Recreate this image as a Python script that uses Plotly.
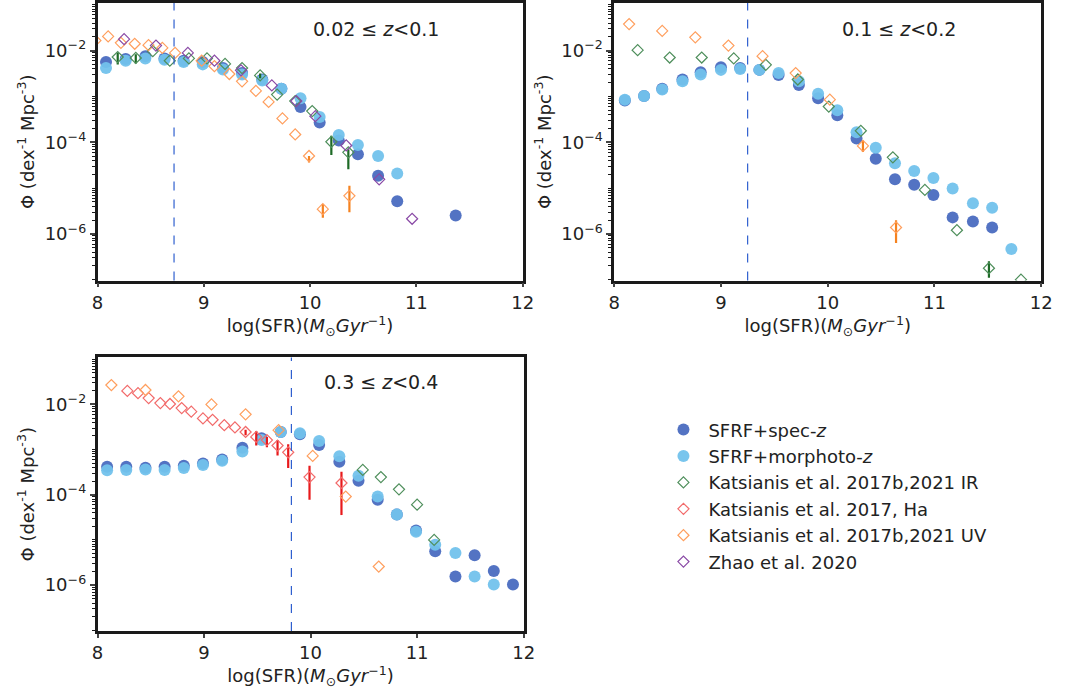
import plotly.graph_objects as go

# ---------------- data (log10 Phi values) ----------------
# Panel 1: 0.02 <= z < 0.1
p1_spec_x = [8.08, 8.265, 8.45, 8.63, 8.81, 8.99, 9.18, 9.36, 9.55, 9.73, 9.91, 10.09, 10.27, 10.45, 10.64, 10.82, 11.37]
p1_spec_y = [-2.25, -2.18, -2.12, -2.17, -2.22, -2.25, -2.38, -2.49, -2.63, -2.83, -3.23, -3.57, -3.96, -4.26, -4.73, -5.29, -5.60]
p1_morph_x = [8.08, 8.265, 8.45, 8.63, 8.81, 8.99, 9.18, 9.36, 9.55, 9.73, 9.91, 10.09, 10.27, 10.45, 10.64, 10.82]
p1_morph_y = [-2.38, -2.22, -2.17, -2.20, -2.25, -2.30, -2.41, -2.52, -2.65, -2.83, -3.04, -3.45, -3.84, -4.06, -4.30, -4.68]
p1_ir_x = [8.19, 8.36, 8.52, 8.68, 8.86, 9.03, 9.20, 9.36, 9.53, 9.69, 9.86, 10.02, 10.20, 10.36]
p1_ir_y = [-2.14, -2.16, -2.01, -2.22, -2.17, -2.17, -2.29, -2.38, -2.54, -2.96, -3.10, -3.32, -3.99, -4.22]
p1_ir_lo = [-2.30, -2.28, None, None, None, None, None, None, -2.60, None, None, None, -4.28, -4.59]
p1_ir_hi = [-2.04, -2.08, None, None, None, None, None, None, -2.50, None, None, None, -3.86, -4.15]
p1_uv_x = [7.98, 8.10, 8.22, 8.35, 8.48, 8.61, 8.73, 8.98, 9.10, 9.24, 9.36, 9.49, 9.61, 9.74, 9.86, 9.99, 10.12, 10.37]
p1_uv_y = [-1.78, -1.69, -1.83, -1.85, -1.88, -1.94, -2.05, -2.22, -2.34, -2.51, -2.67, -2.88, -3.12, -3.48, -3.83, -4.30, -5.46, -5.17]
p1_uv_lo = [None] * 15 + [-4.44, -5.65, -5.53]
p1_uv_hi = [None] * 15 + [-4.30, -5.35, -4.95]
p1_zhao_x = [8.25, 8.55, 8.85, 9.10, 9.35, 9.64, 9.87, 10.05, 10.34, 10.65, 10.96]
p1_zhao_y = [-1.75, -1.89, -2.05, -2.22, -2.43, -2.76, -3.10, -3.43, -4.07, -4.81, -5.67]

# Panel 2: 0.1 <= z < 0.2
p2_spec_x = [8.10, 8.28, 8.45, 8.64, 8.81, 9.00, 9.18, 9.36, 9.54, 9.73, 9.91, 10.09, 10.27, 10.45, 10.63, 10.81, 10.99, 11.17, 11.36, 11.54]
p2_spec_y = [-3.09, -2.99, -2.83, -2.63, -2.47, -2.36, -2.38, -2.42, -2.53, -2.75, -3.04, -3.41, -3.92, -4.36, -4.81, -4.93, -5.15, -5.64, -5.73, -5.86]
p2_morph_x = [8.10, 8.28, 8.45, 8.64, 8.81, 9.00, 9.18, 9.36, 9.54, 9.73, 9.91, 10.09, 10.27, 10.45, 10.63, 10.81, 10.99, 11.17, 11.36, 11.54, 11.72]
p2_morph_y = [-3.07, -2.99, -2.85, -2.67, -2.52, -2.42, -2.40, -2.42, -2.49, -2.67, -2.94, -3.30, -3.78, -4.12, -4.46, -4.63, -4.78, -5.01, -5.33, -5.43, -6.33]
p2_ir_x = [8.22, 8.52, 8.82, 9.12, 9.42, 9.72, 10.01, 10.31, 10.61, 10.91, 11.21, 11.51, 11.81]
p2_ir_y = [-1.99, -2.15, -2.15, -2.17, -2.31, -2.63, -3.22, -3.75, -4.33, -5.04, -5.92, -6.75, -7.00]
p2_ir_lo = [None] * 11 + [-6.96, None]
p2_ir_hi = [None] * 11 + [-6.60, None]
p2_uv_x = [8.14, 8.45, 8.76, 9.07, 9.39, 9.70, 10.02, 10.33, 10.64]
p2_uv_y = [-1.42, -1.57, -1.71, -1.89, -2.12, -2.49, -3.07, -4.08, -5.86]
p2_uv_lo = [None] * 7 + [-4.21, -6.20]
p2_uv_hi = [None] * 7 + [-3.96, -5.70]

# Panel 3: 0.3 <= z < 0.4
p3_spec_x = [8.09, 8.27, 8.45, 8.63, 8.81, 8.99, 9.17, 9.36, 9.54, 9.72, 9.90, 10.08, 10.27, 10.45, 10.63, 10.81, 10.99, 11.17, 11.36, 11.54, 11.72, 11.90]
p3_spec_y = [-3.38, -3.38, -3.40, -3.38, -3.36, -3.31, -3.22, -2.96, -2.75, -2.61, -2.66, -2.90, -3.27, -3.69, -4.11, -4.44, -4.79, -5.25, -5.81, -5.34, -5.69, -5.99]
p3_morph_x = [8.09, 8.27, 8.45, 8.63, 8.81, 8.99, 9.17, 9.36, 9.54, 9.72, 9.90, 10.08, 10.27, 10.45, 10.63, 10.81, 10.99, 11.17, 11.36, 11.54, 11.72]
p3_morph_y = [-3.46, -3.45, -3.44, -3.45, -3.41, -3.34, -3.25, -3.04, -2.79, -2.61, -2.64, -2.81, -3.15, -3.58, -4.04, -4.44, -4.82, -5.11, -5.29, -5.81, -5.99]
p3_ha_x = [8.28, 8.38, 8.48, 8.59, 8.68, 8.79, 8.88, 8.99, 9.08, 9.19, 9.29, 9.39, 9.49, 9.59, 9.69, 9.79, 9.99, 10.29]
p3_ha_y = [-1.70, -1.75, -1.86, -1.97, -1.99, -2.08, -2.16, -2.31, -2.34, -2.46, -2.51, -2.61, -2.72, -2.79, -2.91, -3.06, -3.61, -3.74]
p3_ha_lo = [None] * 11 + [-2.68, -2.91, -2.95, -3.13, -3.41, -4.11, -4.45]
p3_ha_hi = [None] * 11 + [-2.56, -2.59, -2.72, -2.79, -2.88, -3.36, -3.49]
p3_uv_x = [8.13, 8.45, 8.76, 9.07, 9.39, 9.70, 10.02, 10.33, 10.64]
p3_uv_y = [-1.57, -1.68, -1.82, -2.00, -2.22, -2.57, -3.14, -4.04, -5.59]
p3_ir_x = [10.49, 10.66, 10.83, 11.00, 11.16]
p3_ir_y = [-3.45, -3.61, -3.88, -4.22, -5.00]

completeness = [8.72, 9.25, 9.82]
panel_labels = ["0.02 ≤ <i>z</i>&lt;0.1", "0.1 ≤ <i>z</i>&lt;0.2", "0.3 ≤ <i>z</i>&lt;0.4"]

names = {
    "spec": "SFRF+spec-<i>z</i>",
    "morph": "SFRF+morphoto-<i>z</i>",
    "ir": "Katsianis et al. 2017b,2021 IR",
    "ha": "Katsianis et al. 2017, Ha",
    "uv": "Katsianis et al. 2017b,2021 UV",
    "zhao": "Zhao et al. 2020",
}
rank = {"spec": 1, "morph": 2, "ir": 3, "ha": 4, "uv": 5, "zhao": 6}
fill_col = {"spec": "#4a6cc0", "morph": "#72c2ec"}
line_col = {"ir": "#4f8f5c", "ha": "#f26b6b", "uv": "#ff9f5e", "zhao": "#8a4aa6"}
bar_col = {"ir": "#1d6a25", "ha": "#e8191b", "uv": "#f5821f", "zhao": "#6a1f86"}

fig = go.Figure()
shown = set()


def lin(v):
    return [10 ** a for a in v]


def add(key, xs, ys, ax, lo=None, hi=None):
    show = key not in shown
    shown.add(key)
    yl = lin(ys)
    kw = {}
    if key in fill_col:
        marker = dict(symbol="circle", size=12, color=fill_col[key], opacity=0.95)
    else:
        marker = dict(symbol="diamond-open", size=8.5, color=line_col[key], line=dict(width=1.2, color=line_col[key]))
        if lo is not None:
            plus = [(10 ** h - y) if h is not None else 0 for h, y in zip(hi, yl)]
            minus = [(y - 10 ** l) if l is not None else 0 for l, y in zip(lo, yl)]
            kw["error_y"] = dict(type="data", array=plus, arrayminus=minus, symmetric=False,
                                 color=bar_col[key], thickness=2.2, width=0)
    fig.add_trace(go.Scatter(x=xs, y=yl, mode="markers", marker=marker, name=names[key],
                             legendgroup=key, showlegend=show, legendrank=rank[key],
                             xaxis="x" + ax, yaxis="y" + ax, **kw))


# panel 1
add("spec", p1_spec_x, p1_spec_y, "")
add("morph", p1_morph_x, p1_morph_y, "")
add("ir", p1_ir_x, p1_ir_y, "", p1_ir_lo, p1_ir_hi)
add("uv", p1_uv_x, p1_uv_y, "", p1_uv_lo, p1_uv_hi)
add("zhao", p1_zhao_x, p1_zhao_y, "")
# panel 2
add("spec", p2_spec_x, p2_spec_y, "2")
add("morph", p2_morph_x, p2_morph_y, "2")
add("ir", p2_ir_x, p2_ir_y, "2", p2_ir_lo, p2_ir_hi)
add("uv", p2_uv_x, p2_uv_y, "2", p2_uv_lo, p2_uv_hi)
# panel 3
add("spec", p3_spec_x, p3_spec_y, "3")
add("morph", p3_morph_x, p3_morph_y, "3")
add("ha", p3_ha_x, p3_ha_y, "3", p3_ha_lo, p3_ha_hi)
add("uv", p3_uv_x, p3_uv_y, "3")
add("ir", p3_ir_x, p3_ir_y, "3")

W, H = 1068, 689
font = dict(family="DejaVu Sans", size=18, color="#222222")
minor_vals = [m * 10.0 ** e for e in range(-8, 0) for m in range(1, 10)]

xcommon = dict(range=[8, 12], dtick=1, ticks="outside", ticklen=4, tickwidth=1.5,
               showline=True, linewidth=2.5, linecolor="#1a1a1a", mirror=True,
               showgrid=False, zeroline=False, tickfont=font,
               title=dict(text="log(SFR)(<i>M</i><sub>⊙</sub><i>Gyr</i><sup>−1</sup>)", font=font, standoff=0))
ycommon = dict(type="log", range=[-7.02, -0.96], tickvals=[1e-6, 1e-4, 1e-2],
               ticktext=["10<sup>−6</sup>", "10<sup>−4</sup>", "10<sup>−2</sup>"],
               ticks="outside", ticklen=5, tickwidth=1.5,
               minor=dict(tickvals=minor_vals, ticks="outside", ticklen=3, tickwidth=1, tickcolor="#1a1a1a"),
               showline=True, linewidth=2.5, linecolor="#1a1a1a", mirror=True,
               showgrid=False, zeroline=False, tickfont=font,
               title=dict(text="Φ (dex<sup>-1</sup> Mpc<sup>-3</sup>)", font=font, standoff=6))

dom = {
    "": ([93 / W, 525 / W], [1 - 280 / H, 1 - 2 / H]),
    "2": ([618 / W, 1052 / W], [1 - 280 / H, 1 - 2 / H]),
    "3": ([93 / W, 526 / W], [1 - 631 / H, 1 - 357 / H]),
}
layout = dict(width=W, height=H, margin=dict(l=0, r=0, t=0, b=0),
              plot_bgcolor="white", paper_bgcolor="white", font=font,
              legend=dict(x=663 / W, y=1 - 411 / H, xanchor="left", yanchor="top",
                          bgcolor="rgba(0,0,0,0)", font=font, tracegroupgap=0, itemwidth=40))
for ax, (xd, yd) in dom.items():
    xa = dict(xcommon, domain=xd, anchor="y" + ax)
    ya = dict(ycommon, domain=yd, anchor="x" + ax)
    layout["xaxis" + ax] = xa
    layout["yaxis" + ax] = ya
fig.update_layout(**layout)

label_pos = [(310, 28), (847, 28), (321, 382)]
for ax, xv, lbl, (px, py) in zip(["", "2", "3"], completeness, panel_labels, label_pos):
    fig.add_shape(type="line", xref="x" + ax, yref=("y" + ax) + " domain", x0=xv, x1=xv, y0=0, y1=1,
                  line=dict(color="#2f5fcf", width=1.2, dash="dash"))
    fig.add_annotation(text=lbl, xref="paper", yref="paper", x=px / W, y=1 - py / H,
                       xanchor="left", yanchor="middle", showarrow=False,
                       font=dict(family="DejaVu Sans", size=19, color="#222222"))

fig.write_html("out.html")
